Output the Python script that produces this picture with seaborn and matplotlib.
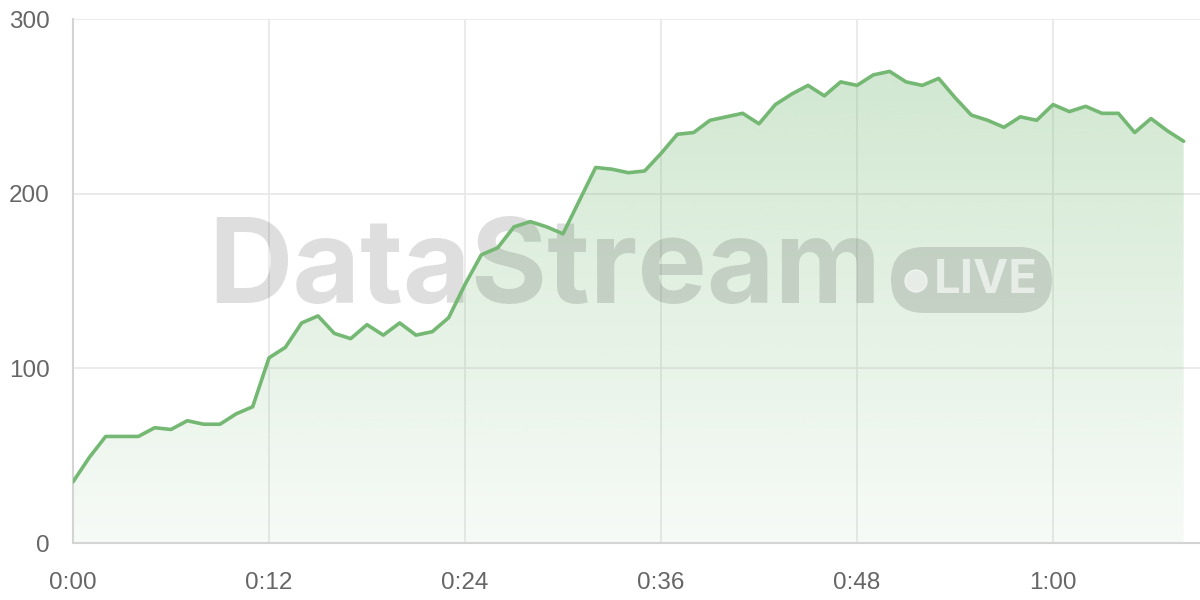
import numpy as np
import pandas as pd
import seaborn as sns
import matplotlib.pyplot as plt
from matplotlib.patches import FancyBboxPatch, Circle
from matplotlib.transforms import IdentityTransform

minutes = list(range(69))
values = [35, 49, 61, 61, 61, 66, 65, 70, 68, 68,
          74, 78, 106, 112, 126, 130, 120, 117, 125, 119,
          126, 119, 121, 129, 148, 165, 169, 181, 184, 181,
          177, 196, 215, 214, 212, 213, 223, 234, 235, 242,
          244, 246, 240, 251, 257, 262, 256, 264, 262, 268,
          270, 264, 262, 266, 255, 245, 242, 238, 244, 242,
          251, 247, 250, 246, 246, 235, 243, 236, 230]

x_ticks = [0, 12, 24, 36, 48, 60]
x_labels = ['0:00', '0:12', '0:24', '0:36', '0:48', '1:00']
y_ticks = [0, 100, 200, 300]

df = pd.DataFrame({'minute': minutes, 'value': values})

sns.set_style('white')
plt.rcParams['font.family'] = ['Liberation Sans', 'DejaVu Sans']

green = '#74b874'

fig = plt.figure(figsize=(12, 6), dpi=100)
ax = fig.add_axes([73 / 1200, 57 / 600, 1 - 73 / 1200, 524 / 600])

# gradient fill under the line, clipped to the area polygon
poly = ax.fill_between(df['minute'], df['value'], 0, color='none', lw=0)
grad = np.zeros((256, 1, 4))
grad[:, 0, :3] = [0x74 / 255, 0xb8 / 255, 0x74 / 255]
grad[:, 0, 3] = np.linspace(0.36, 0.06, 256)
img = ax.imshow(grad, extent=[0, 68, 0, 300], origin='upper', aspect='auto', zorder=1)
img.set_clip_path(poly.get_paths()[0], transform=ax.transData)

sns.lineplot(data=df, x='minute', y='value', ax=ax, color=green, linewidth=2.6, zorder=4)

# watermark
wm = dict(transform=IdentityTransform(), color='black', alpha=0.13, zorder=3)
ax.text(208, 600 - 272, 'DataStream', fontsize=84, fontweight='bold', family='Inter',
        ha='left', va='center', **wm)
badge = FancyBboxPatch((891, 600 - 313), 161, 66, boxstyle='round,pad=0,rounding_size=33',
                       transform=IdentityTransform(), facecolor='black', edgecolor='none',
                       alpha=0.13, zorder=3)
ax.add_patch(badge)
ax.add_patch(Circle((916, 600 - 281), 11, transform=IdentityTransform(),
                    facecolor='white', alpha=0.6, zorder=3.5))
ax.text(934, 600 - 281, 'LIVE', fontsize=34, family='Inter', fontweight='bold',
        color='white', alpha=0.6, ha='left', va='center',
        transform=IdentityTransform(), zorder=3.5)

ax.set_xlim(0, 69)
ax.set_ylim(0, 300)
ax.set_xticks(x_ticks)
ax.set_xticklabels(x_labels)
ax.set_yticks(y_ticks)
ax.set_xlabel('')
ax.set_ylabel('')

ax.grid(True, color='#e8e8e8', linewidth=1.2, zorder=0)
ax.set_axisbelow(True)
ax.tick_params(axis='both', length=11, width=1.2, color='#e8e8e8',
               labelcolor='#666666', labelsize=17.5)
ax.tick_params(axis='x', pad=10)
ax.tick_params(axis='y', pad=6)

for side in ['top', 'right']:
    ax.spines[side].set_visible(False)
for side in ['left', 'bottom']:
    ax.spines[side].set_color('#d4d4d4')
    ax.spines[side].set_linewidth(1.5)

fig.savefig('out.png', dpi=100)
